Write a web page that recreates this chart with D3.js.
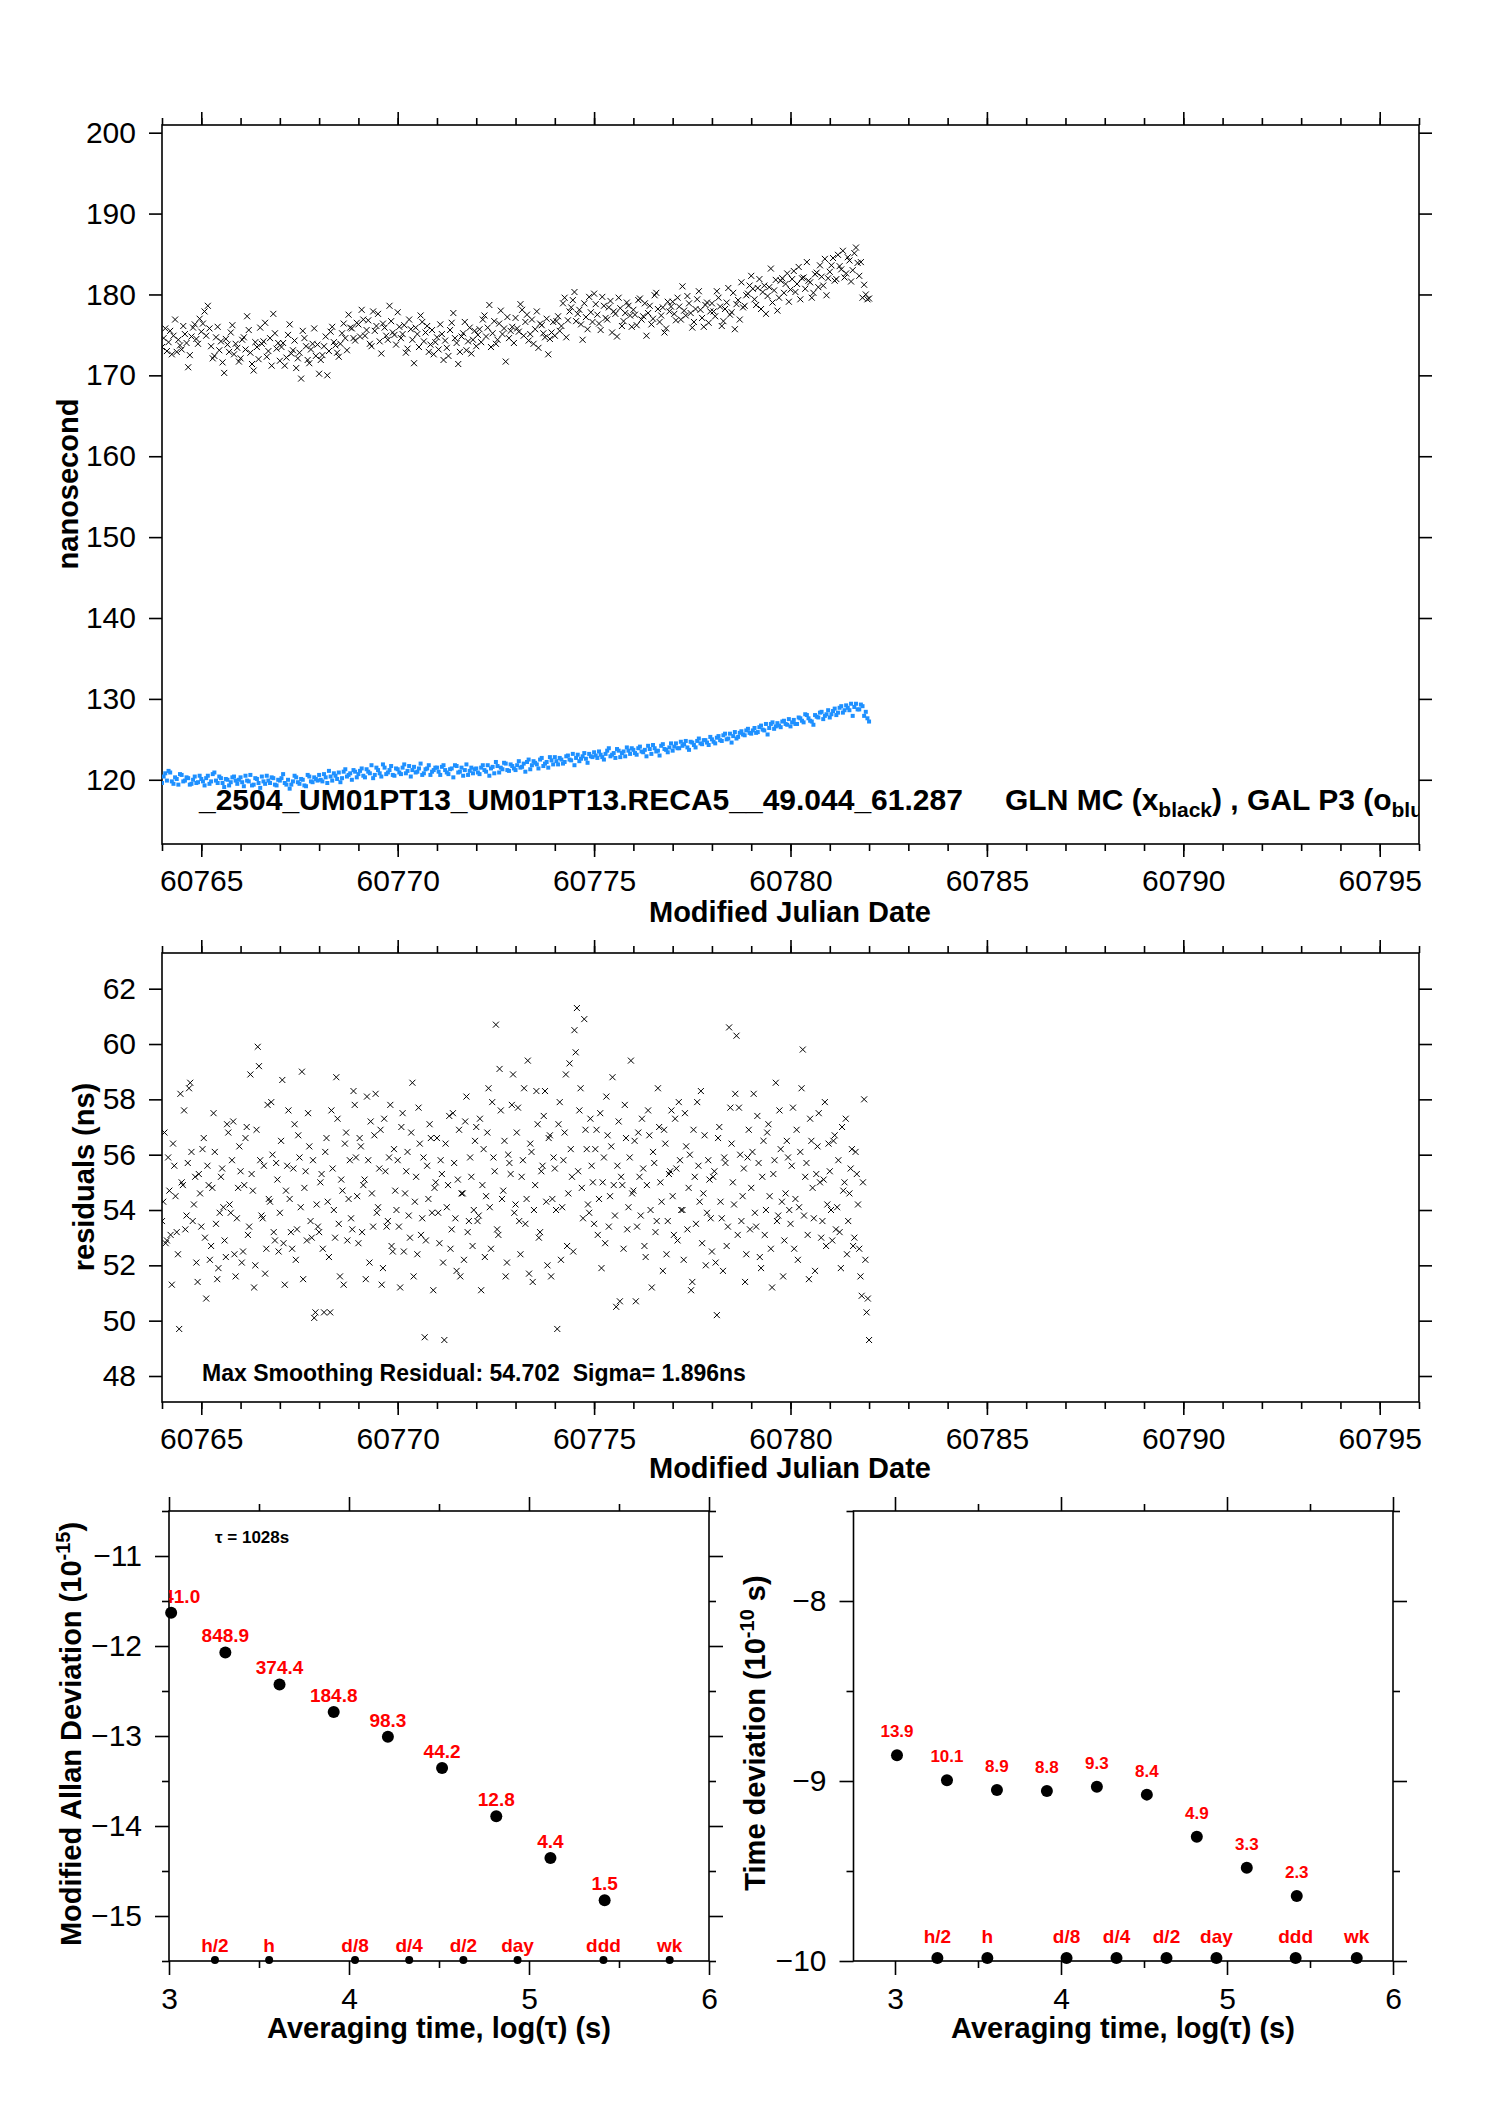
<!DOCTYPE html>
<html><head><meta charset="utf-8">
<script src="https://cdn.jsdelivr.net/npm/d3@7"></script>
<style>
body{margin:0;background:#fff;}
svg{display:block;background:#fff;}
</style></head><body>
<svg id="c" width="1488" height="2105"></svg>
<script>
// ---------------- DATA ----------------
// Top panel: regularly sampled series (every 2 h) starting at MJD 60764.0,
// plus a second set of samples taken 1 h after each of those.
const mjdStart = 60764.0;
const sampleStep = 1 / 12;
const glnMC = [
 173.5,175.8,174.1,172.6,176.9,174.4,173.2,175.1,171.0,174.8,176.3,173.9,
 175.4,177.9,178.6,173.6,172.4,176.0,174.2,170.3,173.8,175.3,172.6,173.4,
 172.1,174.7,177.3,172.8,170.6,173.5,175.9,174.2,172.3,174.6,177.6,173.3,
 171.8,174.0,172.2,176.3,173.1,170.9,172.8,175.5,173.6,171.5,173.9,172.4,
 170.2,172.5,174.8,173.0,176.0,173.7,172.3,175.2,174.6,177.5,175.8,174.3,
 176.3,178.1,174.9,176.8,173.6,175.5,177.6,172.7,175.9,174.4,176.7,175.0,
 177.8,174.6,176.2,173.3,175.7,171.5,175.1,177.4,174.2,176.1,173.8,172.6,
 174.7,176.3,171.9,173.4,175.6,177.7,174.0,172.9,175.2,173.1,175.9,174.4,
 173.6,175.7,176.9,174.8,178.7,175.2,173.9,176.4,175.1,171.7,174.6,176.0,
 177.1,175.4,178.1,176.6,174.3,176.9,175.7,173.4,176.2,174.7,172.6,175.3,
 174.9,177.3,176.1,179.6,176.8,178.4,180.3,177.6,176.3,178.9,175.7,177.8,
 180.1,177.5,175.6,178.6,176.9,179.2,177.9,174.8,178.3,176.7,179.0,177.4,
 178.1,176.2,179.5,177.3,174.9,178.6,177.0,180.2,176.6,178.4,175.8,177.9,
 179.1,176.8,178.5,181.0,177.4,178.9,175.9,178.2,180.4,177.1,178.7,176.5,
 178.9,177.3,179.6,176.1,178.2,180.8,177.8,175.7,179.3,181.5,178.6,180.1,
 182.3,179.4,180.8,178.2,181.1,179.8,183.2,180.5,178.0,181.7,180.2,182.6,
 180.6,182.9,181.3,179.4,182.1,184.0,181.5,180.2,182.7,183.6,181.1,179.9,
 182.8,184.5,181.9,183.5,185.4,182.6,184.2,183.0,185.8,182.3,179.6,180.0,
 179.5
];
const glnMCmid = [
 174.6,173.0,175.5,174.9,172.9,173.7,176.1,174.0,172.5,175.9,174.5,177.0,
 176.4,174.9,175.8,172.1,174.7,173.1,171.6,174.5,172.9,176.2,173.9,171.7,
 174.4,173.2,175.6,171.4,174.1,172.0,173.9,176.5,173.0,171.2,175.2,174.0,
 173.5,171.2,175.0,172.7,174.3,172.1,169.6,174.6,171.9,173.2,175.8,173.8,
 171.9,173.6,170.0,175.4,174.1,172.8,173.9,176.4,173.1,175.9,174.6,176.5,
 174.8,176.9,175.6,173.9,177.9,176.1,174.2,176.4,174.9,178.6,175.3,173.8,
 176.0,175.1,172.8,176.9,174.4,175.9,173.5,176.6,175.3,172.9,175.6,174.1,
 173.2,175.1,174.3,172.4,176.5,174.6,171.4,174.8,176.6,174.2,172.7,175.5,
 175.0,174.1,177.4,175.9,173.5,176.7,174.4,178.0,175.8,177.2,175.5,174.0,
 175.8,178.8,174.9,177.5,175.1,173.9,177.9,176.4,175.2,177.0,174.5,176.6,
 176.7,175.5,178.9,174.7,177.9,179.3,176.7,178.1,174.4,177.2,179.7,176.6,
 178.8,176.4,179.7,177.1,178.4,175.3,177.6,179.6,176.1,177.7,178.6,176.0,
 177.5,179.3,176.9,178.9,177.7,176.3,179.9,178.2,177.4,175.3,179.1,178.5,
 177.6,179.6,176.9,178.0,179.8,177.7,176.6,179.4,178.1,176.0,179.0,177.9,
 177.9,180.4,178.5,176.7,179.0,177.5,180.2,178.8,176.9,178.4,179.9,181.1,
 180.7,178.7,181.9,180.3,177.6,180.9,179.0,181.8,179.6,182.0,181.3,179.1,
 181.9,180.3,183.4,182.0,180.7,181.7,179.6,182.5,180.9,182.2,184.4,182.0,
 183.6,181.7,184.9,183.1,182.1,184.6,181.6,185.1,183.9,184.0,181.2,179.4
];
const galP3 = [
 119.6,120.8,121.1,119.8,120.3,119.4,120.6,119.9,120.2,119.5,120.4,119.7,
 120.1,119.3,120.5,119.8,120.9,119.6,120.2,119.1,120.0,119.7,120.4,119.5,
 120.3,119.2,119.9,120.6,119.4,120.1,119.0,119.8,120.5,119.6,120.2,119.3,
 119.9,120.7,119.4,118.9,119.8,120.3,119.5,120.0,119.2,120.4,119.7,120.1,
 120.6,119.8,120.3,121.1,119.9,120.5,120.9,120.2,121.3,120.6,120.0,121.0,
 120.7,121.4,120.3,121.0,121.8,120.6,121.2,120.4,121.5,120.9,121.7,120.5,
 121.3,120.7,121.9,121.1,120.4,121.6,121.0,122.0,120.8,121.4,120.6,121.2,
 121.5,120.6,121.8,120.9,121.3,120.3,121.7,121.0,120.5,121.9,121.1,120.8,
 121.4,120.7,121.8,121.0,120.5,121.6,122.2,120.9,121.3,122.0,121.1,121.7,
 121.2,122.3,121.6,121.0,122.5,121.8,122.1,121.4,122.7,122.0,121.5,122.4,
 122.8,121.9,122.5,122.2,123.0,122.4,121.8,123.1,122.6,123.3,122.1,122.9,
 123.4,122.7,123.1,122.5,123.6,122.9,123.3,123.8,122.8,123.5,124.0,123.2,
 123.7,123.1,124.1,123.4,122.9,123.8,124.3,123.5,123.0,124.4,123.7,124.0,
 123.6,124.5,123.9,124.2,124.8,123.7,124.6,124.0,125.1,124.4,124.9,124.3,
 125.0,124.5,125.4,124.8,125.7,125.1,124.6,125.9,125.3,126.0,125.5,126.3,
 125.7,126.4,125.9,126.7,126.1,125.6,126.9,126.3,127.0,126.5,127.3,126.8,
 126.6,127.4,126.9,127.6,127.1,128.0,127.3,126.8,127.8,128.3,127.5,128.1,
 127.7,128.5,128.0,128.9,128.3,129.2,128.6,127.9,129.4,128.7,129.1,128.4,
 127.2
];
const galP3mid = [
 120.4,119.9,120.9,119.5,120.1,120.7,119.8,120.3,119.4,120.0,119.6,120.5,
 119.8,120.2,119.5,120.7,119.9,120.4,119.6,120.1,119.3,120.3,119.9,120.0,
 119.7,120.5,119.8,119.3,120.2,119.6,120.4,119.5,119.9,120.3,119.4,120.0,
 120.2,119.6,120.0,119.4,120.5,119.7,120.1,119.3,120.6,119.8,120.3,119.9,
 120.0,120.7,119.6,120.4,120.8,120.1,119.7,121.0,120.4,120.8,121.2,120.3,
 121.1,120.5,121.3,120.8,120.2,121.5,120.8,121.9,120.7,121.2,120.6,121.4,
 120.9,121.5,120.8,121.7,121.2,120.9,121.4,120.6,121.3,121.8,121.0,121.5,
 121.0,121.6,121.2,120.7,121.4,121.8,120.9,121.5,121.2,120.6,121.5,121.3,
 120.9,121.5,121.2,121.8,121.4,120.8,121.7,121.5,122.1,121.2,121.9,121.4,
 121.8,121.5,122.0,122.2,121.3,122.3,121.9,122.5,121.7,122.2,122.8,121.9,
 122.3,122.7,122.0,122.9,122.5,123.2,122.7,122.3,122.9,122.6,123.2,122.8,
 123.0,123.5,122.8,123.2,123.9,123.1,122.7,123.6,123.3,122.9,123.6,123.9,
 123.3,123.9,123.5,123.7,124.2,123.2,123.9,123.6,124.2,123.8,123.4,124.5,
 124.1,123.9,124.7,124.4,124.0,124.7,124.3,124.8,124.5,124.9,124.6,125.3,
 124.7,125.2,124.9,125.5,125.0,125.7,125.4,125.1,125.8,125.6,126.1,125.8,
 126.1,125.8,126.5,126.2,126.9,126.4,127.1,126.6,126.7,127.2,126.9,127.5,
 127.1,126.9,127.7,127.3,128.1,127.6,127.2,128.0,127.7,128.4,127.9,128.6,
 128.1,128.8,128.3,129.1,128.6,128.9,129.4,129.0,128.7,129.3,127.9,127.6
];
// Middle panel: residuals (ns), every 1.5 h from MJD 60764.0, plus samples 45 min later
const residStart = 60764.0;
const residStep = 1 / 16;
const residuals = [
 53.6,56.8,52.9,54.7,51.3,55.6,53.2,49.7,55.0,57.6,53.8,58.4,56.1,54.2,52.1,55.3,
 53.4,56.6,50.8,54.9,52.7,57.5,53.5,51.9,55.2,54.1,52.3,56.8,53.9,57.2,51.6,54.8,
 55.4,52.5,56.6,53.1,58.9,54.7,52.0,59.9,55.8,53.7,51.7,57.8,54.3,56.0,52.9,55.1,
 53.9,58.7,51.3,55.6,54.4,52.6,57.1,53.3,55.9,59.0,54.8,52.9,56.3,53.0,50.1,54.2,
 53.2,55.3,50.3,56.6,52.3,57.6,54.0,58.8,53.5,55.1,51.3,56.8,54.4,53.7,58.3,55.9,
 52.8,56.3,54.9,51.5,55.8,57.2,53.4,58.2,54.1,56.9,51.9,55.4,53.6,57.8,52.5,54.7,
 55.8,51.2,57.5,54.6,56.1,53.0,58.6,54.3,52.4,56.4,53.7,49.4,55.6,57.1,53.9,54.8,
 56.6,52.8,55.3,49.3,54.1,57.4,53.3,55.7,51.8,56.9,54.6,52.2,58.1,53.6,55.2,54.0,
 57.0,53.8,51.1,56.2,54.5,58.4,52.6,55.9,60.7,53.1,57.6,54.7,51.6,56.0,55.3,58.9,
 54.2,57.7,52.4,55.8,53.5,59.4,56.4,51.4,54.9,57.1,53.2,55.6,58.3,52.0,56.7,54.4,
 55.5,49.7,57.9,54.1,56.8,52.7,59.3,55.2,60.5,61.3,57.6,54.8,60.9,56.2,53.9,55.6,
 53.5,56.9,54.4,51.9,55.9,58.1,53.4,56.3,54.9,50.5,57.2,55.2,52.6,56.6,54.1,59.4,
 54.7,50.7,56.8,53.8,55.5,52.3,57.6,54.0,56.1,53.2,58.4,55.0,51.8,56.4,53.6,55.4,
 54.5,57.3,52.9,55.8,54.0,57.5,53.3,56.0,51.4,55.2,57.9,54.3,52.8,56.7,53.9,55.1,
 52.5,55.4,50.2,57.0,53.7,55.9,52.7,60.6,56.4,54.2,60.3,57.7,53.6,55.5,52.4,56.9,
 54.8,58.2,53.4,55.7,51.9,56.5,54.0,57.1,52.6,55.3,58.6,53.8,56.2,51.6,54.6,55.9,
 53.5,57.7,54.4,52.2,56.1,59.8,55.2,53.1,57.3,54.8,51.8,56.3,55.0,53.6,57.9,54.2,
 55.4,52.9,56.7,54.1,53.2,57.0,55.0,52.4,54.6,56.2,53.0,55.3,52.6,50.9,58.0,50.3,
 49.3
];
const residualsMid = [
 54.3,52.8,55.9,53.1,56.4,54.5,52.4,58.2,54.9,53.3,55.7,58.6,53.6,55.2,51.4,54.6,
 56.2,53.0,55.6,52.2,54.8,56.1,51.5,53.9,55.5,52.9,57.1,54.2,55.8,52.4,53.7,56.3,
 52.1,54.9,57.0,53.4,55.3,51.2,56.9,59.2,53.8,55.6,52.6,54.4,57.9,53.2,55.7,52.5,
 56.5,52.8,54.7,57.6,53.2,55.5,52.2,56.7,54.1,51.5,55.4,57.5,53.6,55.8,50.3,53.4,
 55.0,52.6,56.1,54.3,50.3,55.5,53.0,57.3,51.6,54.7,56.4,52.9,55.8,53.3,57.8,54.5,
 56.6,53.2,55.1,58.1,52.1,54.6,56.7,53.9,55.5,51.3,57.3,53.4,55.9,52.7,56.2,54.0,
 53.4,57.0,52.5,55.4,53.8,56.8,51.6,55.2,57.7,53.1,55.9,52.9,54.4,56.6,51.1,55.0,
 53.9,55.8,52.1,56.4,54.9,52.6,57.5,53.7,55.1,51.6,54.6,57.2,53.2,55.9,52.7,56.5,
 53.6,57.3,54.9,52.3,56.8,54.1,57.9,55.4,53.3,59.1,54.4,56.5,52.1,55.7,57.8,53.9,
 56.8,53.6,55.2,58.4,54.4,51.7,56.1,54.0,58.3,53.0,55.4,57.4,54.3,56.6,51.6,55.9,
 54.0,57.1,52.2,55.8,58.9,54.6,56.2,52.5,59.7,55.4,58.4,53.7,56.9,54.2,57.3,55.0,
 56.2,53.1,57.5,55.0,52.8,56.7,54.5,58.8,53.8,55.6,50.7,54.9,57.8,53.3,55.9,54.6,
 56.5,53.4,55.2,57.3,52.7,54.9,56.7,51.2,55.7,53.6,57.0,54.3,56.9,52.4,55.3,57.6,
 53.1,55.5,57.9,54.0,52.2,56.3,54.8,51.1,56.9,53.5,55.6,58.3,54.6,52.0,55.8,53.7,
 55.2,52.1,56.6,54.3,51.8,55.7,53.4,57.7,55.0,58.2,53.1,56.0,54.5,51.4,55.9,53.3,
 56.1,53.9,57.4,52.3,55.2,53.1,56.8,54.5,51.2,55.8,53.6,57.6,54.3,52.9,56.5,54.0,
 55.6,52.6,56.9,54.1,58.4,53.8,55.7,51.5,56.5,53.7,55.3,57.5,53.0,55.1,52.7,56.4,
 54.0,56.5,53.3,55.8,51.9,54.7,57.3,53.6,55.5,52.7,56.1,54.2,51.6,55.0,52.2,50.8
];
// Bottom panels
const tauSeconds = [1028, 2056, 4112, 8224, 16448, 32896, 65792, 131584, 263168];
const mdevValues = [2341.0, 848.9, 374.4, 184.8, 98.3, 44.2, 12.8, 4.4, 1.5];   // 1e-15
const tdevValues = [13.9, 10.1, 8.9, 8.8, 9.3, 8.4, 4.9, 3.3, 2.3];            // 1e-10 s
const markerNames = ["h/2", "h", "d/8", "d/4", "d/2", "day", "ddd", "wk"];
const markerSeconds = [1800, 3600, 10800, 21600, 43200, 86400, 259200, 604800];
const runName = "_2504_UM01PT13_UM01PT13.RECA5__49.044_61.287";
const mjdMajor = [60765, 60770, 60775, 60780, 60785, 60790, 60795];
const mjdMinor = d3.range(60764, 60797, 1);

// ---------------- DRAWING ----------------
const FONT = '"Liberation Sans", Arial, Helvetica, sans-serif';
const svg = d3.select("#c").style("font-family", FONT);
const defs = svg.append("defs");
let clipCount = 0;
function makeClip(l, t, w, h) {
  const id = "clip" + (clipCount++);
  defs.append("clipPath").attr("id", id).append("rect")
    .attr("x", l).attr("y", t).attr("width", w).attr("height", h);
  return `url(#${id})`;
}
function drawAxis(g, gen, tr, fs) {
  const a = g.append("g").attr("transform", tr).call(gen);
  a.attr("font-family", null).attr("font-size", null);
  a.select(".domain").remove();
  a.selectAll(".tick line").attr("stroke", "#000").attr("stroke-width", 1.6);
  a.selectAll(".tick text").attr("font-size", fs).attr("fill", "#000").style("font-family", FONT);
  return a;
}
function panel(c) {
  const x = d3.scaleLinear().domain(c.xDomain).range([c.left, c.right]);
  const y = d3.scaleLinear().domain(c.yDomain).range([c.bottom, c.top]);
  const g = svg.append("g");
  const clip = makeClip(c.left, c.top, c.right - c.left, c.bottom - c.top);
  const fs = c.fontSize, TL = c.tickLen, TM = c.minorLen, TP = c.pad;
  if (c.xMinor) {
    drawAxis(g, d3.axisBottom(x).tickValues(c.xMinor).tickSize(TM).tickFormat(""), `translate(0,${c.bottom})`, fs);
    drawAxis(g, d3.axisTop(x).tickValues(c.xMinor).tickSize(TM).tickFormat(""), `translate(0,${c.top})`, fs);
  }
  drawAxis(g, d3.axisBottom(x).tickValues(c.xMajor).tickSize(TL).tickPadding(TP).tickFormat(c.xFormat), `translate(0,${c.bottom})`, fs);
  drawAxis(g, d3.axisTop(x).tickValues(c.xMajor).tickSize(TL).tickFormat(""), `translate(0,${c.top})`, fs);
  if (c.yMinor) {
    drawAxis(g, d3.axisLeft(y).tickValues(c.yMinor).tickSize(TM).tickFormat(""), `translate(${c.left},0)`, fs);
    drawAxis(g, d3.axisRight(y).tickValues(c.yMinor).tickSize(TM).tickFormat(""), `translate(${c.right},0)`, fs);
  }
  drawAxis(g, d3.axisLeft(y).tickValues(c.yMajor).tickSize(TL).tickPadding(TP).tickFormat(c.yFormat), `translate(${c.left},0)`, fs);
  drawAxis(g, d3.axisRight(y).tickValues(c.yMajor).tickSize(TL).tickFormat(""), `translate(${c.right},0)`, fs);
  g.append("rect").attr("x", c.left).attr("y", c.top)
    .attr("width", c.right - c.left).attr("height", c.bottom - c.top)
    .attr("fill", "none").attr("stroke", "#000").attr("stroke-width", 1.6);
  return { x, y, g, clip };
}
function ylabel(x, y, parts, fs) {
  const t = svg.append("text").attr("transform", `translate(${x},${y}) rotate(-90)`)
    .attr("text-anchor", "middle").attr("font-weight", "bold").attr("font-size", fs)
    .attr("fill", "#000").style("font-family", FONT);
  parts.forEach(p => {
    t.append("tspan").text(p.t).attr("font-size", p.fs || fs).attr("dy", p.dy || 0);
  });
  return t;
}
function xlabel(x, y, s, fs) {
  return svg.append("text").attr("x", x).attr("y", y).attr("text-anchor", "middle")
    .attr("font-weight", "bold").attr("font-size", fs).attr("fill", "#000")
    .style("font-family", FONT).text(s);
}
const crossPath = "M-3,-3L3,3M-3,3L3,-3";
// combine a regular series and its offset companion into {t, v} records
function samples(start, step, main, mid) {
  const out = main.map((v, i) => ({ t: start + i * step, v }));
  mid.forEach((v, i) => out.push({ t: start + (i + 0.5) * step, v }));
  return out.sort((a, b) => a.t - b.t);
}

// ---- Top panel ----
const P1 = panel({
  left: 162, right: 1419, top: 125, bottom: 844,
  xDomain: [60764, 60796], yDomain: [112.06, 200.95],
  xMajor: mjdMajor, xMinor: mjdMinor, xFormat: d3.format("d"),
  yMajor: d3.range(120, 201, 10), yFormat: d3.format("d"),
  fontSize: 30, tickLen: 13, minorLen: 7, pad: 13
});
const galData = samples(mjdStart, sampleStep, galP3, galP3mid);
const glnData = samples(mjdStart, sampleStep, glnMC, glnMCmid);
const p1data = P1.g.append("g").attr("clip-path", P1.clip);
p1data.selectAll("rect.gal").data(galData).join("rect")
  .attr("x", d => P1.x(d.t) - 2).attr("y", d => P1.y(d.v) - 2)
  .attr("width", 4).attr("height", 4).attr("fill", "#1e90ff");
p1data.selectAll("path.gln").data(glnData).join("path")
  .attr("d", crossPath)
  .attr("transform", d => `translate(${P1.x(d.t)},${P1.y(d.v)})`)
  .attr("stroke", "#000").attr("stroke-width", 1).attr("fill", "none");
const t1 = P1.g.append("g").attr("clip-path", P1.clip)
  .attr("font-weight", "bold").attr("fill", "#000").style("font-family", FONT);
t1.append("text").attr("x", 199).attr("y", 810).attr("font-size", 30).text(runName);
const t2 = t1.append("text").attr("x", 1005).attr("y", 810).attr("font-size", 30).style("white-space", "pre");
t2.append("tspan").text("GLN MC (x");
t2.append("tspan").attr("font-size", 21).attr("dy", 7).text("black");
t2.append("tspan").attr("font-size", 30).attr("dy", -7).text(") , GAL P3 (o");
t2.append("tspan").attr("font-size", 21).attr("dy", 7).text("blue)");
ylabel(78, 484, [{ t: "nanosecond" }], 29);
xlabel(790, 922, "Modified Julian Date", 29);

// ---- Middle panel ----
const P2 = panel({
  left: 162, right: 1419, top: 953, bottom: 1402,
  xDomain: [60764, 60796], yDomain: [47.06, 63.29],
  xMajor: mjdMajor, xMinor: mjdMinor, xFormat: d3.format("d"),
  yMajor: d3.range(48, 63, 2), yFormat: d3.format("d"),
  fontSize: 30, tickLen: 13, minorLen: 7, pad: 13
});
const residData = samples(residStart, residStep, residuals, residualsMid);
P2.g.append("g").attr("clip-path", P2.clip).selectAll("path").data(residData).join("path")
  .attr("d", crossPath)
  .attr("transform", d => `translate(${P2.x(d.t)},${P2.y(d.v)})`)
  .attr("stroke", "#000").attr("stroke-width", 1).attr("fill", "none");
svg.append("text").attr("x", 202).attr("y", 1381).attr("font-size", 23).attr("font-weight", "bold")
  .style("white-space", "pre").style("font-family", FONT)
  .text("Max Smoothing Residual: 54.702  Sigma= 1.896ns");
ylabel(94, 1177, [{ t: "residuals (ns)" }], 29);
xlabel(790, 1478, "Modified Julian Date", 29);

// ---- MDEV panel ----
const P3 = panel({
  left: 169, right: 709, top: 1511, bottom: 1961,
  xDomain: [3, 6], yDomain: [-15.5, -10.5],
  xMajor: [3, 4, 5, 6], xMinor: [3.5, 4.5, 5.5], xFormat: d3.format("d"),
  yMajor: [-15, -14, -13, -12, -11], yMinor: [-15.5, -14.5, -13.5, -12.5, -11.5, -10.5],
  yFormat: d3.format("d"),
  fontSize: 30, tickLen: 14, minorLen: 7, pad: 13
});
const mdev = tauSeconds.map((s, i) => ({ lx: Math.log10(s), ly: Math.log10(mdevValues[i]) - 15, v: mdevValues[i] }));
P3.g.selectAll("circle.pt").data(mdev).join("circle")
  .attr("cx", d => P3.x(d.lx)).attr("cy", d => P3.y(d.ly)).attr("r", 6).attr("fill", "#000");
P3.g.append("g").attr("clip-path", P3.clip).selectAll("text").data(mdev).join("text")
  .attr("x", d => P3.x(d.lx)).attr("y", d => P3.y(d.ly) - 10)
  .attr("text-anchor", "middle").attr("font-size", 19).attr("font-weight", "bold")
  .attr("fill", "#ff0000").style("font-family", FONT).text(d => d3.format(".1f")(d.v));
const mk3 = markerSeconds.map((s, i) => ({ lx: Math.log10(s), name: markerNames[i] }));
P3.g.selectAll("circle.mk").data(mk3).join("circle")
  .attr("cx", d => P3.x(d.lx)).attr("cy", 1960).attr("r", 4).attr("fill", "#000");
P3.g.selectAll("text.mk").data(mk3).join("text")
  .attr("x", d => P3.x(d.lx)).attr("y", 1952).attr("text-anchor", "middle")
  .attr("font-size", 19).attr("font-weight", "bold").attr("fill", "#ff0000")
  .style("font-family", FONT).text(d => d.name);
svg.append("text").attr("x", 215).attr("y", 1543).attr("font-size", 17).attr("font-weight", "bold")
  .style("font-family", FONT).text("τ = 1028s");
ylabel(81, 1734, [{ t: "Modified Allan Deviation (10" }, { t: "-15", fs: 20, dy: -11 }, { t: ")", dy: 11 }], 29);
xlabel(439, 2038, "Averaging time, log(τ) (s)", 29);

// ---- TDEV panel ----
const P4 = panel({
  left: 853.5, right: 1393, top: 1511, bottom: 1961,
  xDomain: [2.75, 6], yDomain: [-10, -7.5],
  xMajor: [3, 4, 5, 6], xMinor: [3.5, 4.5, 5.5], xFormat: d3.format("d"),
  yMajor: [-10, -9, -8], yMinor: [-9.5, -8.5, -7.5],
  yFormat: d3.format("d"),
  fontSize: 30, tickLen: 14, minorLen: 7, pad: 13
});
const tdev = tauSeconds.map((s, i) => ({ lx: Math.log10(s), ly: Math.log10(tdevValues[i]) - 10, v: tdevValues[i] }));
P4.g.selectAll("circle.pt").data(tdev).join("circle")
  .attr("cx", d => P4.x(d.lx)).attr("cy", d => P4.y(d.ly)).attr("r", 6).attr("fill", "#000");
P4.g.selectAll("text.pt").data(tdev).join("text")
  .attr("x", d => P4.x(d.lx)).attr("y", d => P4.y(d.ly) - 18)
  .attr("text-anchor", "middle").attr("font-size", 17).attr("font-weight", "bold")
  .attr("fill", "#ff0000").style("font-family", FONT).text(d => d3.format(".1f")(d.v));
P4.g.selectAll("circle.mk").data(mk3).join("circle")
  .attr("cx", d => P4.x(d.lx)).attr("cy", 1958).attr("r", 6).attr("fill", "#000");
P4.g.selectAll("text.mk").data(mk3).join("text")
  .attr("x", d => P4.x(d.lx)).attr("y", 1943).attr("text-anchor", "middle")
  .attr("font-size", 19).attr("font-weight", "bold").attr("fill", "#ff0000")
  .style("font-family", FONT).text(d => d.name);
ylabel(765, 1733, [{ t: "Time deviation (10" }, { t: "-10", fs: 20, dy: -11 }, { t: " s)", dy: 11 }], 29);
xlabel(1123, 2038, "Averaging time, log(τ) (s)", 29);
</script>
</body></html>
